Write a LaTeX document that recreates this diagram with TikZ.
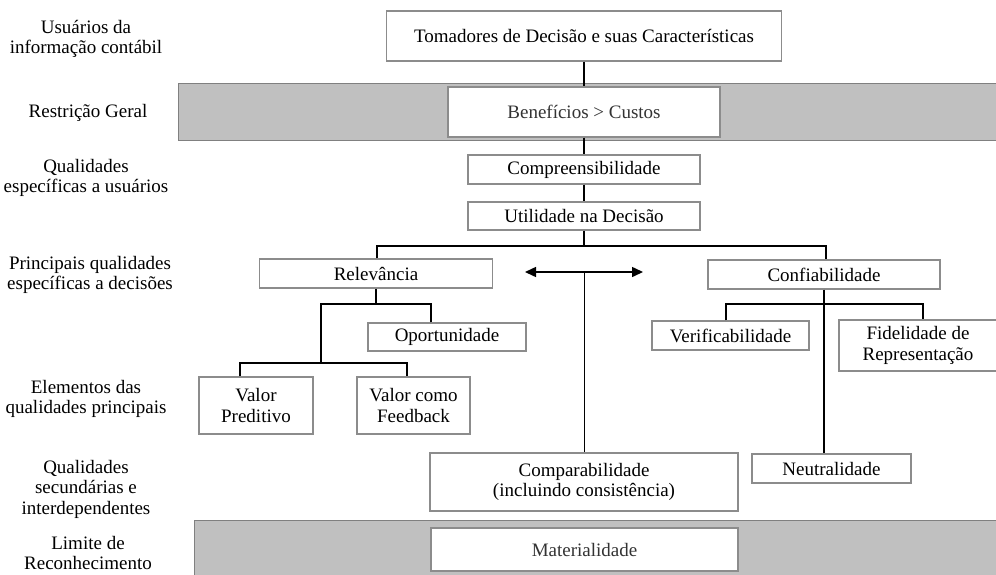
\documentclass[tikz,border=0pt]{standalone}
\usepackage{fontspec}
\setmainfont{Liberation Serif}
\usetikzlibrary{arrows.meta}
\definecolor{boxgray}{HTML}{8C8C8C}
\definecolor{bandgray}{HTML}{C0C0C0}
\definecolor{bandedge}{HTML}{808080}
\begin{document}
\begin{tikzpicture}[x=1pt,y=-1pt,
  every node/.style={font=\fontsize{19}{20.5}\selectfont},
  box/.style={draw=boxgray, line width=1.2pt, fill=white, inner sep=0pt, align=center},
  band/.style={draw=bandedge, line width=1pt, fill=bandgray},
  conn/.style={draw=black, line width=1.5pt},
  lbl/.style={align=center, inner sep=0pt},
  tip/.style={{Triangle[length=11pt,width=10pt]}-{Triangle[length=11pt,width=10pt]}}]
\useasboundingbox (0,0) rectangle (996,574);
\fill[white] (0,0) rectangle (996,574);
% bands
\path[band] (178,83) rectangle (1000,140);
\path[band] (194,520) rectangle (1000,580);
% boxes
\node[box, minimum width=395, minimum height=50] (tom) at (584,36) {Tomadores de Decisão e suas Características};
\node[box, minimum width=272, minimum height=50, text=black!80] (ben) at (584,112) {Benefícios > Custos};
\node[box, minimum width=232, minimum height=29] (comp) at (584,169.5) {Compreensibilidade};
\node[box, minimum width=232, minimum height=28] (util) at (584,216) {Utilidade na Decisão};
\node[box, minimum width=233, minimum height=29] (rel) at (376,273.5) {Relevância};
\node[box, minimum width=232, minimum height=29] (conf) at (824,274.5) {Confiabilidade};
\node[box, minimum width=158, minimum height=28] (opo) at (447,337) {Oportunidade};
\node[box, minimum width=114, minimum height=57] (vp) at (256,405.5) {Valor\\Preditivo};
\node[box, minimum width=113, minimum height=57] (vf) at (413.5,405.5) {Valor como\\Feedback};
\node[box, minimum width=157, minimum height=29] (ver) at (730.5,335.5) {Verificabilidade};
\node[box, minimum width=158, minimum height=51] (fid) at (918,345.5) {Fidelidade de\\Representação};
\node[box, minimum width=159, minimum height=29] (neu) at (831.5,468.5) {Neutralidade};
\node[box, minimum width=308, minimum height=58] (cmp) at (584,482) {Comparabilidade\\(incluindo consistência)};
\node[box, minimum width=307, minimum height=43, text=black!80] (mat) at (584.5,549.5) {Materialidade};
% labels
\node[lbl] (l1) at (86,39) {Usuários da\\informação contábil};
\node[lbl] (l2) at (88,113) {Restrição Geral};
\node[lbl] (l3) at (86,178) {Qualidades\\específicas a usuários};
\node[lbl] (l4) at (90,275) {Principais qualidades\\específicas a decisões};
\node[lbl] (l5) at (86,399) {Elementos das\\qualidades principais};
\node[lbl] (l6) at (86,489) {Qualidades\\secundárias e\\interdependentes};
\node[lbl] (l7) at (88,553) {Limite de\\Reconhecimento};
% connectors
\coordinate (ul) at (377,246);
\coordinate (ur) at (826,246);
\coordinate (al) at (525,272);
\coordinate (ar) at (643,272);
\coordinate (am) at (584.5,272);
\coordinate (rb) at (321,304);
\coordinate (ro) at (431,304);
\coordinate (lb) at (240,363);
\coordinate (lr) at (407,363);
\coordinate (cl) at (726,304);
\coordinate (cr) at (923,304);
\draw[conn] (tom.south) -- (ben.north);
\draw[conn] (ben.south) -- (comp.north);
\draw[conn] (comp.south) -- (util.north);
\draw[conn] (util.south) -- (util.south |- ul);
\draw[conn] (rel.north -| ul) |- (ur) -- (ur |- conf.north);
\draw[conn, tip] (al) -- (ar);
\draw[conn] (am) -- (am |- cmp.north);
\draw[conn] (rel.south) -- (rel.south |- rb);
\draw[conn] (opo.north -| ro) |- (rb) -- (rb |- lb);
\draw[conn] (vp.north -| lb) |- (lr) -- (lr |- vf.north);
\draw[conn] (conf.south) -- (conf.south |- neu.north);
\draw[conn] (ver.north -| cl) |- (cr) -- (cr |- fid.north);
\end{tikzpicture}
\end{document}
